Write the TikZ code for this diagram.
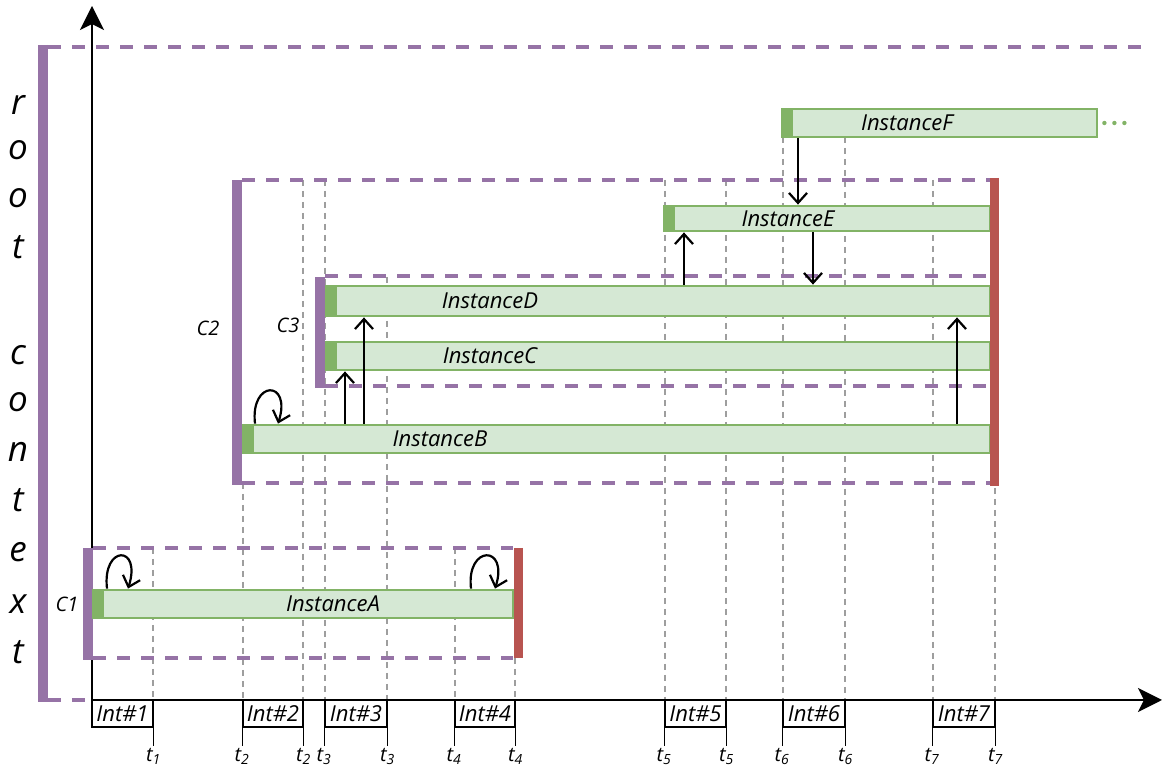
\documentclass[tikz,border=0pt]{standalone}
\usepackage{fontspec}
\setmainfont{Open Sans}
\usetikzlibrary{arrows.meta,fit}
\definecolor{ctxpurple}{HTML}{9673A6}
\definecolor{endred}{HTML}{B85450}
\definecolor{instgreen}{HTML}{82B366}
\definecolor{instfill}{HTML}{D5E8D4}
\definecolor{guidegray}{HTML}{9E9E9E}

\tikzset{
  ctxbar/.style={ctxpurple, line width=5pt},
  ctxedge/.style={ctxpurple, line width=2pt, dash pattern=on 6.5pt off 5.5pt},
  endbar/.style={endred, line width=4.5pt},
  guide/.style={guidegray, line width=0.7pt, dash pattern=on 3pt off 2.5pt},
  instbar/.style={draw=instgreen, fill=instfill, line width=1.4pt, inner sep=0pt},
  instname/.style={font=\fontsize{11}{13}\selectfont\itshape, inner sep=0pt},
  ctxname/.style={font=\fontsize{10}{12}\selectfont\itshape},
  rootletter/.style={font=\fontsize{17.5}{20}\selectfont\itshape},
  intbox/.style={draw, fill=white, line width=0.7pt, inner sep=0pt},
  tick/.style={line width=0.7pt},
  tlab/.style={anchor=north, inner sep=1pt, font=\fontsize{10}{12}\selectfont\itshape},
  call/.style={line width=1.1pt, -{Straight Barb[length=5pt,width=9pt,line width=1.1pt]}},
  axis/.style={line width=1pt, -{Stealth[length=12pt,width=12pt,inset=3pt]}},
  moredots/.style={instgreen, line width=2.2pt, dash pattern=on 0pt off 5pt, line cap=round},
}

\begin{document}
\begin{tikzpicture}[x=0.5pt, y=-0.5pt]
  \useasboundingbox (0,0) rectangle (1164,769);

  \foreach \gx/\gy in {153/548, 243/483, 303/180, 325/180, 387/277, 455/548, 515/548,
                       665/180, 726/180, 783/137, 845/137, 933/180, 995/180}
    \draw[guide] (\gx,\gy) -- (\gx,700);

  \coordinate (origin) at (92,700);
  \coordinate (ytip) at (92,6);
  \coordinate (xtip) at (1162,700);
  \draw[axis] (origin) -- (ytip);
  \draw[axis] (origin) -- (xtip);

  % root context
  \draw[ctxedge] (48,47) -- (1145,47);
  \draw[ctxedge] (48,700) -- (92,700);
  \draw[ctxbar] (43,45) -- (43,702);
  \foreach \ch/\cy [count=\i] in {r/105,o/150,o/198,t/247,c/355,o/402,n/452,t/500,e/552,x/604,t/652}
    \node[rootletter] (root\i) at (18,\cy) {\ch};

  % contexts C1, C2, C3
  \draw[ctxedge] (93,548) -- (513,548);
  \draw[ctxedge] (93,658) -- (513,658);
  \draw[ctxedge] (242,180) -- (990,180);
  \draw[ctxedge] (242,483) -- (990,483);
  \draw[ctxedge] (325,276) -- (990,276);
  \draw[ctxedge] (325,386) -- (990,386);
  \draw[ctxbar] (88,548) -- (88,660);
  \draw[ctxbar] (237,180) -- (237,485);
  \draw[ctxbar] (320,277) -- (320,388);
  \node[ctxname] (c1) at (67,604) {C1};
  \node[ctxname] (c2) at (208,328) {C2};
  \node[ctxname] (c3) at (288,325) {C3};

  % instances
  \foreach \n/\xa/\ya/\xb/\yb/\lx in {A/93/590/513/618/333, B/243/425/990/453/440,
      C/326/342/990/370/490, D/326/286/990/316/490, E/664/206/990/231/788,
      F/782/109/1097/137/907}{
    \node[instbar, fit={(\xa,\ya) (\xb,\yb)}] (inst\n) {};
    \fill[instgreen] (inst\n.north west) rectangle ([xshift=6pt]inst\n.south west);
    \node[instname] (name\n) at (\lx,{(\ya+\yb)/2}) {Instance\n};
  }
  \coordinate (fend) at (1133,123);
  \draw[moredots] ([xshift=3pt]instF.east) -- (fend);

  \draw[endbar] (518,548) -- (518,658);
  \draw[endbar] (994,178) -- (994,486);

  % calls between instances
  \foreach \src/\sa/\dst/\da/\cx in {instB/north/instC/south/345, instB/north/instD/south/364,
      instB/north/instD/south/957, instD/north/instE/south/684,
      instF/south/instE/north/798, instE/south/instD/north/813}{
    \coordinate (callx) at (\cx,0);
    \draw[call] (\src.\sa -| callx) -- (\dst.\da -| callx);
  }
  \foreach \inst/\xa/\xb in {instA/107/128, instA/471/495, instB/255/278}{
    \coordinate (loopa) at (\xa,0);
    \coordinate (loopb) at (\xb,0);
    \draw[call] (\inst.north -| loopa) .. controls +(-5,-44) and +(14,-44) .. (\inst.north -| loopb);
  }

  % intervals
  \foreach \i/\xl/\xr in {1/92/153, 2/243/303, 3/325/387, 4/455/515, 5/665/726, 6/783/845, 7/933/995}{
    \node[intbox, fit={(\xl,700) (\xr,727)}, label={[instname]center:Int\#\i}] (int\i) {};
    \draw[tick] (int\i.south east) -- ++(0,18) node[tlab] (tr\i) {t\textsubscript{\i}};
    \ifnum\i>1
      \draw[tick] (int\i.south west) -- ++(0,18) node[tlab] (tl\i) {t\textsubscript{\i}};
    \fi
  }
\end{tikzpicture}
\end{document}
